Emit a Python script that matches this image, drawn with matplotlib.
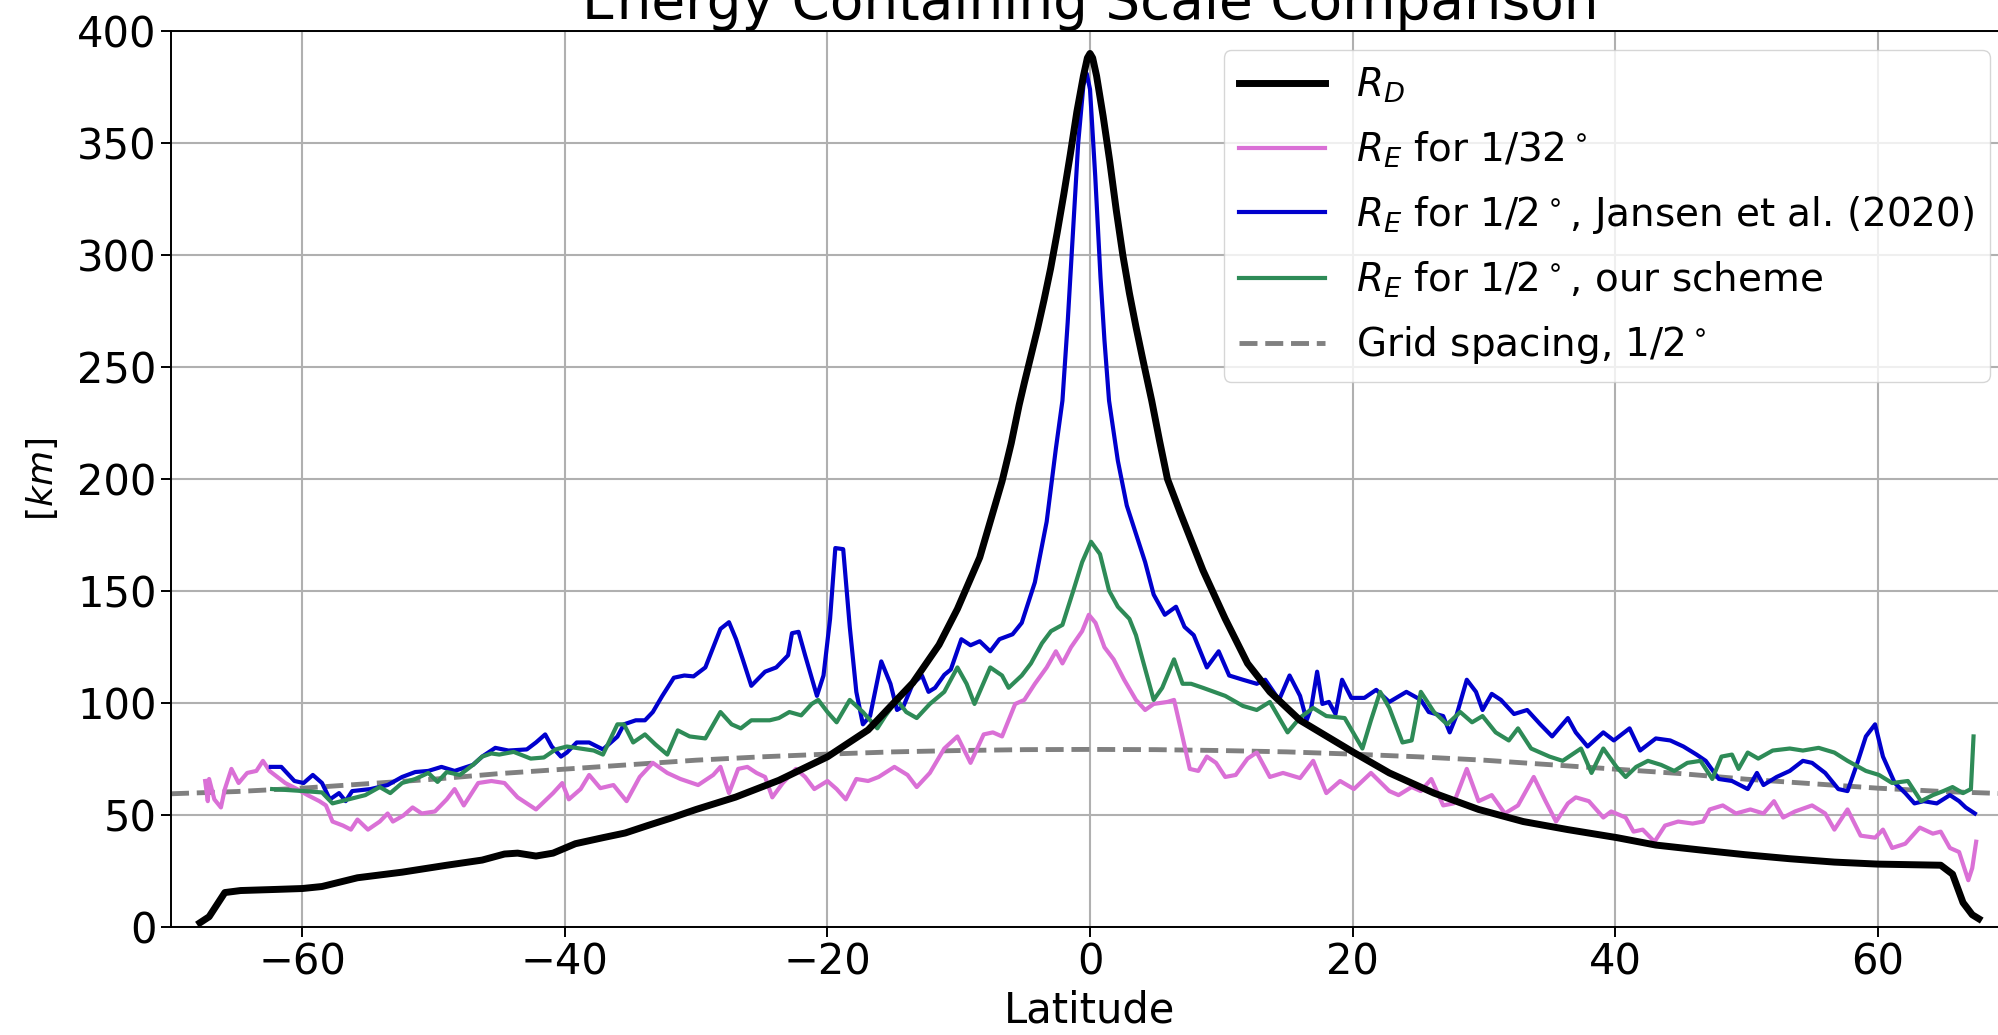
import matplotlib
matplotlib.use("Agg")
import matplotlib.pyplot as plt

# ---------------- data ----------------
lat_rd = [-67.8, -67.1, -66.5, -65.9, -64.7, -62.0, -60.0, -58.5, -55.8, -52.4,
          -49.0, -46.3, -44.6, -43.6, -42.2, -40.9, -39.2, -37.1, -35.4, -33.7,
          -32.0, -30.0, -27.0, -23.7, -20.0, -16.9, -13.5, -11.5, -10.1, -8.4,
          -6.7, -6.0, -5.4, -5.0, -4.5, -4.0, -3.5, -3.0, -2.5, -2.0,
          -1.5, -1.0, -0.5, -0.2, 0.0, 0.2, 0.5, 1.0, 1.5, 2.0,
          2.5, 3.0, 3.5, 4.0, 4.7, 5.3, 5.9, 6.9, 8.6, 10.3,
          12.0, 13.7, 16.0, 20.1, 22.8, 26.2, 29.6, 33.0, 36.4, 40.15,
          43.1, 46.5, 49.9, 53.3, 56.7, 60.0, 64.8, 65.7, 66.5, 67.2, 67.7]
rd = [1.9, 4.6, 10.0, 15.4, 16.3, 16.8, 17.2, 18.1, 22.0, 24.5,
      27.6, 29.9, 32.6, 33.0, 31.7, 33.0, 37.2, 39.9, 42.0, 45.3,
      48.5, 52.5, 58.0, 65.5, 76.0, 88.0, 109.0, 126.0, 142.0, 165.0,
      199.0, 216.0, 233.0, 243.0, 255.0, 267.0, 280.0, 294.0, 310.0, 327.0,
      345.0, 364.0, 380.0, 388.0, 390.0, 388.0, 380.0, 362.0, 342.0, 320.0,
      300.0, 283.0, 268.0, 254.0, 235.0, 217.0, 200.0, 184.6, 159.3, 137.6,
      117.7, 105.0, 92.3, 77.9, 68.8, 59.8, 52.5, 47.1, 43.5, 39.9,
      36.6, 34.4, 32.3, 30.5, 29.0, 28.1, 27.6, 23.6, 10.9, 5.5, 3.7]

lat_32 = [-67.4, -67.2, -67.1, -66.7, -66.2, -65.9, -65.4, -64.85, -64.2, -63.5,
          -63.0, -62.5, -61.9, -61.3, -60.4, -59.6, -58.7, -58.2, -57.7, -56.9,
          -56.3, -55.8, -55.0, -54.1, -53.5, -53.1, -52.3, -51.6, -50.9, -49.9,
          -49.0, -48.4, -47.7, -46.6, -45.6, -44.6, -43.6, -42.2, -40.9, -40.2,
          -39.7, -38.8, -38.15, -37.3, -36.3, -35.3, -34.3, -33.3, -32.2, -31.2,
          -29.85, -28.7, -28.15, -27.5, -26.8, -26.1, -25.4, -24.75, -24.2, -23.4,
          -22.4, -21.7, -21.0, -20.0, -19.3, -18.6, -17.8, -16.9, -16.1, -14.9,
          -13.9, -13.2, -12.2, -11.1, -10.1, -9.1, -8.1, -7.4, -6.7, -5.7,
          -5.0, -4.2, -3.3, -2.6, -2.1, -1.45, -0.6, -0.09, 0.42, 1.1,
          1.8, 2.6, 3.5, 4.2, 4.85, 5.9, 6.4, 6.9, 7.6, 8.25,
          8.9, 9.6, 10.3, 11.1, 12.0, 12.7, 13.7, 14.7, 16.0, 17.0,
          18.0, 19.05, 20.1, 21.4, 22.8, 23.5, 24.5, 25.2, 26.0, 26.9,
          27.7, 28.7, 29.6, 30.6, 31.6, 32.6, 33.8, 34.7, 35.5, 36.4,
          37.0, 38.0, 39.1, 39.7, 40.8, 41.4, 42.1, 43.0, 43.8, 44.8,
          45.9, 46.7, 47.2, 48.2, 49.2, 50.3, 51.3, 52.1, 52.8, 53.7,
          55.0, 56.0, 56.7, 57.7, 58.7, 59.8, 60.4, 61.1, 62.1, 63.2,
          64.2, 64.8, 65.5, 66.2, 66.9, 67.2, 67.5]
re_32 = [65.2, 56.2, 66.1, 57.0, 53.4, 61.6, 70.6, 64.3, 68.8, 69.7,
         74.2, 69.7, 67.0, 64.3, 61.6, 58.9, 56.2, 54.3, 47.1, 45.3,
         43.5, 48.0, 43.5, 47.1, 50.7, 47.1, 49.8, 53.4, 50.7, 51.6,
         57.0, 61.6, 54.3, 64.3, 65.2, 64.3, 57.9, 52.5, 59.8, 64.3,
         57.0, 61.6, 67.9, 62.0, 63.4, 56.2, 67.0, 73.3, 68.8, 66.1,
         63.4, 67.9, 71.5, 59.8, 70.6, 71.5, 68.8, 67.0, 57.9, 64.3,
         70.6, 67.0, 61.6, 65.2, 61.6, 57.0, 66.1, 65.2, 67.0, 71.5,
         67.9, 62.5, 68.8, 79.7, 85.1, 73.3, 86.0, 86.9, 85.1, 99.6,
         101.4, 108.6, 115.9, 123.1, 117.7, 124.9, 132.1, 139.4, 135.8, 124.9,
         119.5, 110.4, 101.4, 96.9, 99.6, 100.5, 101.4, 88.7, 70.6, 69.7,
         76.1, 73.3, 67.0, 67.9, 75.2, 77.9, 67.0, 68.8, 66.5, 74.2,
         59.8, 65.2, 61.6, 68.8, 60.7, 58.9, 62.5, 60.7, 66.1, 54.3,
         55.2, 70.6, 56.2, 58.9, 50.7, 54.3, 67.0, 56.2, 47.1, 55.2,
         57.9, 56.2, 48.9, 51.6, 48.9, 42.6, 43.5, 38.1, 45.3, 47.1,
         46.2, 47.1, 52.5, 54.3, 50.7, 52.5, 50.7, 56.2, 48.9, 51.6,
         54.3, 50.7, 43.5, 52.5, 40.8, 39.9, 43.5, 35.3, 37.2, 44.4,
         41.7, 42.6, 35.3, 33.5, 20.9, 26.3, 38.1]

lat_j = [-62.4, -61.6, -60.6, -59.9, -59.2, -58.5, -57.9, -57.2, -56.7, -56.2,
         -54.8, -53.5, -52.4, -51.4, -50.4, -49.4, -48.4, -47.0, -46.3, -45.3,
         -44.3, -42.9, -42.2, -41.5, -41.0, -40.3, -39.85, -39.1, -38.15, -37.1,
         -36.0, -35.5, -34.6, -33.9, -33.3, -32.6, -31.7, -30.9, -30.2, -29.3,
         -28.7, -28.15, -27.5, -26.96, -26.45, -25.8, -24.75, -23.9, -23.0, -22.7,
         -22.2, -21.7, -20.8, -20.3, -19.8, -19.4, -18.8, -18.3, -17.8, -17.3,
         -16.75, -15.9, -15.2, -14.7, -14.2, -13.5, -12.8, -12.3, -11.8, -11.1,
         -10.6, -9.8, -9.1, -8.4, -7.6, -6.9, -5.9, -5.2, -4.2, -3.3,
         -2.6, -2.1, -1.7, -1.3, -0.9, -0.5, -0.25, 0.0, 0.4, 0.8,
         1.1, 1.45, 2.12, 2.8, 3.5, 4.2, 4.85, 5.7, 6.55, 7.2,
         7.9, 8.4, 8.9, 9.8, 10.6, 11.65, 12.7, 13.35, 14.4, 15.2,
         16.0, 16.5, 16.85, 17.3, 17.7, 18.2, 18.7, 19.2, 19.9, 20.9,
         21.8, 22.8, 24.1, 25.2, 25.8, 26.9, 27.4, 27.9, 28.7, 29.4,
         29.9, 30.6, 31.3, 32.3, 33.3, 34.3, 35.2, 36.4, 37.0, 37.9,
         39.1, 39.9, 41.1, 41.9, 43.1, 44.2, 45.2, 46.2, 46.9, 47.9,
         48.9, 50.1, 50.8, 51.3, 52.3, 53.3, 54.3, 55.0, 56.0, 57.0,
         57.7, 58.4, 59.1, 59.8, 60.4, 61.3, 62.1, 62.8, 63.5, 64.5,
         65.5, 66.2, 66.7, 67.4]
re_j = [71.5, 71.5, 65.2, 64.3, 67.9, 64.3, 57.0, 59.8, 56.2, 60.7,
        61.6, 63.4, 67.0, 69.2, 69.7, 71.5, 69.7, 72.4, 76.1, 80.0,
        78.8, 79.3, 82.4, 86.0, 80.6, 76.1, 77.9, 82.4, 82.4, 79.3,
        85.0, 90.5, 92.3, 92.3, 96.0, 103.0, 111.3, 112.3, 111.9, 115.9,
        124.9, 133.1, 136.1, 128.5, 119.5, 107.7, 114.0, 115.9, 121.3, 131.2,
        131.8, 121.3, 103.2, 112.3, 137.6, 169.2, 168.7, 134.0, 105.0, 90.5,
        94.2, 118.6, 108.6, 96.9, 98.7, 108.6, 112.3, 105.0, 106.8, 112.6,
        115.0, 128.5, 125.8, 127.6, 123.1, 128.5, 130.7, 135.8, 153.9, 181.0,
        213.6, 235.0, 270.0, 310.0, 350.0, 376.0, 381.0, 374.0, 335.0, 290.0,
        262.0, 235.0, 208.2, 188.2, 175.6, 162.9, 148.4, 139.4, 143.0, 134.0,
        130.3, 123.1, 115.9, 123.1, 112.3, 110.4, 108.6, 110.4, 101.4, 112.3,
        103.2, 92.3, 97.8, 114.0, 99.6, 100.5, 95.1, 110.4, 102.3, 102.3,
        105.9, 100.5, 105.0, 101.4, 96.0, 94.2, 86.9, 94.2, 110.4, 105.0,
        96.9, 104.1, 101.4, 95.1, 96.9, 90.5, 85.1, 93.3, 86.9, 80.6,
        86.9, 83.3, 88.7, 78.8, 84.2, 83.3, 80.6, 77.0, 74.2, 66.1,
        65.2, 61.6, 68.8, 63.4, 67.0, 69.7, 74.2, 73.3, 68.8, 61.6,
        60.7, 72.4, 85.1, 90.5, 76.1, 64.3, 59.8, 55.2, 56.2, 55.2,
        58.9, 56.2, 53.4, 50.7]

lat_our = [-62.3, -59.9, -58.5, -57.7, -56.5, -55.2, -54.1, -53.3, -52.4, -51.4,
           -50.4, -49.7, -49.0, -48.0, -47.0, -46.3, -45.6, -45.0, -43.9, -42.6,
           -41.6, -40.7, -39.85, -38.8, -37.8, -37.1, -36.0, -35.5, -34.8, -33.9,
           -33.1, -32.2, -31.4, -30.5, -29.3, -28.15, -27.3, -26.6, -25.8, -24.4,
           -23.7, -22.9, -22.0, -21.2, -20.7, -20.0, -19.3, -18.3, -17.3, -16.2,
           -15.6, -14.7, -14.0, -13.2, -12.2, -11.1, -10.1, -9.4, -8.8, -7.6,
           -6.7, -6.2, -5.2, -4.5, -3.66, -2.97, -2.1, -1.27, -0.6, 0.08,
           0.76, 1.45, 2.12, 3.0, 3.5, 4.0, 4.85, 5.5, 6.4, 7.05,
           7.7, 8.6, 10.3, 11.65, 12.7, 13.7, 15.05, 16.0, 17.0, 18.0,
           19.4, 20.75, 21.4, 22.1, 22.8, 23.8, 24.5, 25.2, 26.2, 27.2,
           28.2, 29.1, 29.9, 30.9, 31.9, 32.6, 33.6, 35.0, 36.0, 37.4,
           38.2, 39.1, 40.1, 40.8, 41.6, 42.5, 43.5, 44.5, 45.5, 46.5,
           47.4, 48.1, 48.9, 49.4, 50.1, 50.9, 52.0, 53.3, 54.3, 55.5,
           56.7, 57.7, 59.1, 60.1, 61.1, 62.3, 63.3, 64.2, 65.0, 65.7,
           66.5, 67.1, 67.3]
re_our = [61.6, 60.7, 60.1, 55.2, 57.0, 58.9, 62.5, 59.8, 64.3, 66.1,
          68.8, 64.8, 69.2, 67.9, 72.4, 76.1, 77.5, 77.0, 78.2, 75.2,
          75.7, 79.3, 80.6, 79.7, 78.8, 77.0, 90.5, 90.5, 82.4, 86.0,
          81.5, 77.0, 87.8, 85.1, 84.2, 96.0, 90.5, 88.7, 92.3, 92.3,
          93.3, 96.0, 94.5, 99.6, 101.4, 96.0, 91.4, 101.4, 96.0, 88.7,
          94.2, 101.4, 96.0, 93.3, 99.6, 105.0, 115.9, 108.6, 99.6, 115.9,
          112.3, 106.8, 112.3, 117.7, 126.7, 132.1, 134.9, 150.2, 162.9, 172.0,
          166.5, 150.2, 143.0, 137.6, 130.3, 119.5, 101.4, 106.8, 119.5, 108.6,
          108.6, 106.8, 103.2, 98.7, 96.9, 100.5, 86.9, 93.5, 97.8, 94.2,
          93.3, 79.7, 92.3, 105.0, 97.8, 82.4, 83.3, 105.0, 96.0, 90.5,
          96.0, 91.4, 94.2, 86.9, 83.3, 88.7, 79.7, 76.1, 74.2, 79.7,
          68.8, 79.7, 71.5, 67.0, 71.5, 74.2, 72.4, 69.7, 73.3, 74.2,
          66.1, 76.1, 77.0, 70.6, 77.9, 75.2, 78.8, 79.7, 78.8, 80.0,
          77.9, 74.2, 69.7, 67.9, 64.3, 65.2, 56.2, 58.9, 60.7, 62.5,
          59.8, 61.6, 85.1]

lat_grid = [-70, -65, -60, -55, -50, -45, -40, -35, -30, -25, -20, -15, -10, -5, 0,
            5, 10, 15, 20, 25, 30, 35, 40, 45, 50, 55, 60, 65, 70]
grid_spacing = [59.5, 60.5, 62.0, 64.0, 66.0, 68.5, 70.5, 72.5, 74.5, 76.0, 77.2, 78.2,
                78.8, 79.2, 79.3, 79.2, 78.8, 78.2, 77.2, 76.0, 74.5, 72.5, 70.5, 68.5,
                66.0, 64.0, 62.0, 60.5, 59.5]

labels = [r"$R_D$", r"$R_E$ for 1/32$^\circ$",
          r"$R_E$ for 1/2$^\circ$, Jansen et al. (2020)",
          r"$R_E$ for 1/2$^\circ$, our scheme", r"Grid spacing, 1/2$^\circ$"]
title = "Energy Containing Scale Comparison"
xticks = [-60, -40, -20, 0, 20, 40, 60]
yticks = [0, 50, 100, 150, 200, 250, 300, 350, 400]

# ---------------- figure ----------------
fig = plt.figure(figsize=(19.98, 10.35), dpi=100)
ax = fig.add_axes([0.0856, 0.1043, 0.9199, 0.8657])

ax.plot(lat_rd, rd, color="black", lw=5.0, label=labels[0], zorder=5,
        solid_joinstyle="round")
ax.plot(lat_32, re_32, color="orchid", lw=3.0, label=labels[1], zorder=3)
ax.plot(lat_j, re_j, color="mediumblue", lw=3.0, label=labels[2], zorder=4)
ax.plot(lat_our, re_our, color="seagreen", lw=3.0, label=labels[3], zorder=4)
ax.plot(lat_grid, grid_spacing, color="gray", lw=3.5, ls="--", label=labels[4], zorder=2)

ax.set_xlim(-70, 70)
ax.set_ylim(0, 400)
ax.set_xticks(xticks)
ax.set_yticks(yticks)
ax.tick_params(labelsize=30, length=7, width=1.4)
for s in ax.spines.values():
    s.set_linewidth(1.4)
ax.grid(True, color="#b0b0b0", lw=1.5)
ax.set_axisbelow(True)

ax.set_xlabel("Latitude", fontsize=30)
ax.set_ylabel(r"$[km]$", fontsize=26, labelpad=12)
ax.set_title(title, fontsize=39.5, pad=6)
ax.legend(loc="upper right", fontsize=28, labelspacing=0.62, handlelength=2.2)

fig.savefig("out.png", dpi=100)
